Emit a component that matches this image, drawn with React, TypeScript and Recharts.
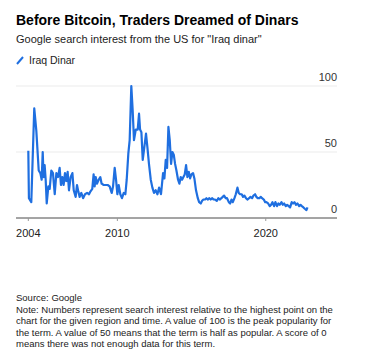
import React from "react";
import { CartesianGrid, Line, LineChart, XAxis, YAxis } from "recharts";

// Google Trends, "Iraq dinar", US. Dates as decimal years.
const dates = [
  2004.0, 2004.04, 2004.2, 2004.4, 2004.54, 2004.7, 2004.81, 2004.9, 2004.97,
  2005.03, 2005.1, 2005.17, 2005.24, 2005.35, 2005.44, 2005.55, 2005.66, 2005.78,
  2005.89, 2006.0, 2006.11, 2006.2, 2006.29, 2006.38, 2006.47, 2006.56, 2006.65,
  2006.74, 2006.85, 2006.97, 2007.06, 2007.19, 2007.28, 2007.37, 2007.46, 2007.57,
  2007.69, 2007.82, 2007.96, 2008.09, 2008.18, 2008.31, 2008.4, 2008.47, 2008.54,
  2008.63, 2008.74, 2008.85, 2008.94, 2009.08, 2009.21, 2009.35, 2009.48, 2009.62,
  2009.71, 2009.82, 2009.91, 2010.0, 2010.09, 2010.2, 2010.31, 2010.43, 2010.54,
  2010.63, 2010.74, 2010.83, 2010.94, 2011.03, 2011.12, 2011.24, 2011.37, 2011.46,
  2011.53, 2011.62, 2011.71, 2011.8, 2011.93, 2012.02, 2012.13, 2012.25, 2012.36,
  2012.47, 2012.58, 2012.7, 2012.81, 2012.94, 2013.08, 2013.17, 2013.26, 2013.35,
  2013.44, 2013.53, 2013.62, 2013.71, 2013.8, 2013.89, 2013.98, 2014.09, 2014.18,
  2014.27, 2014.36, 2014.45, 2014.54, 2014.63, 2014.72, 2014.81, 2014.9, 2014.99,
  2015.1, 2015.19, 2015.3, 2015.42, 2015.51, 2015.62, 2015.71, 2015.8, 2015.91,
  2016.0, 2016.09, 2016.2, 2016.29, 2016.38, 2016.49, 2016.58, 2016.7, 2016.81,
  2016.9, 2017.01, 2017.1, 2017.19, 2017.3, 2017.39, 2017.51, 2017.6, 2017.69,
  2017.78, 2017.89, 2017.98, 2018.09, 2018.18, 2018.27, 2018.38, 2018.47, 2018.56,
  2018.67, 2018.76, 2018.88, 2018.97, 2019.08, 2019.17, 2019.28, 2019.37, 2019.46,
  2019.57, 2019.66, 2019.75, 2019.87, 2019.96, 2020.04, 2020.16, 2020.27, 2020.36,
  2020.45, 2020.56, 2020.65, 2020.76, 2020.85, 2020.94, 2021.06, 2021.15, 2021.24,
  2021.35, 2021.44, 2021.55, 2021.64, 2021.75, 2021.84, 2021.93, 2022.04, 2022.13,
  2022.25, 2022.34, 2022.43, 2022.54, 2022.63, 2022.74, 2022.81,
];

const iraqDinar = [
  51, 15, 12, 83, 66, 36, 34, 29, 50,
  31, 40, 29, 11, 24, 22, 36, 34, 18,
  34, 31, 38, 25, 31, 25, 34, 28, 35,
  21, 31, 34, 21, 16, 25, 20, 16, 19,
  15, 18, 19, 18, 20, 22, 33, 24, 31,
  26, 29, 31, 26, 25, 25, 25, 24, 19,
  24, 38, 29, 18, 25, 18, 15, 19, 18,
  29, 49, 59, 100, 82, 59, 67, 67, 79,
  67, 65, 44, 52, 64, 54, 41, 29, 23,
  19, 21, 18, 23, 18, 34, 30, 44, 38,
  69, 59, 41, 50, 48, 41, 36, 29, 26,
  31, 29, 31, 33, 40, 31, 35, 30, 33,
  34, 30, 21, 15, 12, 11, 13, 14, 14,
  15, 14, 15, 14, 15, 14, 14, 13, 15,
  14, 15, 16, 17, 15, 15, 12, 11, 14,
  12, 15, 18, 23, 19, 18, 18, 16, 17,
  15, 14, 15, 16, 15, 17, 18, 16, 15,
  15, 16, 15, 14, 12, 12, 11, 9, 10,
  12, 9, 12, 9, 11, 10, 12, 10, 11,
  9, 10, 9, 8, 12, 11, 12, 10, 11,
  9, 10, 9, 8, 7, 6, 8,
];

const xTicks = [2004, 2010, 2020];
const yTicks = [0, 50, 100];

const rows = dates.map((d, i) => ({ date: d, value: iraqDinar[i] }));

const BLUE = "#1f6fe0";
const FONT = "'Liberation Sans', Arial, sans-serif";

function renderYTick(props: any) {
  const { y, payload } = props;
  return (
    <text x={337} y={y - 5} textAnchor="end" fontSize={11} fill="#333" fontFamily={FONT}>
      {payload.value}
    </text>
  );
}

export default function App() {
  return (
    <div
      style={{
        position: "absolute",
        left: 0,
        top: 0,
        width: 376,
        height: 362,
        background: "#fff",
        fontFamily: FONT,
        color: "#111",
      }}
    >
      <div style={{ position: "absolute", left: 16, top: 12, fontSize: 14, fontWeight: 700, color: "#000" }}>
        Before Bitcoin, Traders Dreamed of Dinars
      </div>
      <div style={{ position: "absolute", left: 16, top: 33, fontSize: 11, color: "#222" }}>
        Google search interest from the US for "Iraq dinar"
      </div>
      <div style={{ position: "absolute", left: 16, top: 54, fontSize: 10.5, color: "#222", display: "flex", alignItems: "center" }}>
        <svg width={8} height={10} style={{ marginRight: 5 }}>
          <line x1={1} y1={9} x2={7} y2={2} stroke={BLUE} strokeWidth={2} />
        </svg>
        Iraq Dinar
      </div>

      <div style={{ position: "absolute", left: 0, top: 70 }}>
        <LineChart
          width={376}
          height={180}
          data={rows}
          margin={{ top: 16, right: 9, bottom: 12, left: 16 }}
        >
          <CartesianGrid vertical={false} stroke="#ebebeb" />
          <XAxis
            dataKey="date"
            type="number"
            domain={[2003.17, 2024.8]}
            ticks={xTicks}
            allowDataOverflow
            height={20}
            axisLine={{ stroke: "#555" }}
            tickLine={{ stroke: "#999" }}
            tickSize={3}
            tickMargin={8}
            tick={{ fontSize: 11, fill: "#222", fontFamily: FONT }}
          />
          <YAxis
            orientation="right"
            width={30}
            domain={[0, 100]}
            ticks={yTicks}
            axisLine={false}
            tickLine={false}
            tick={renderYTick}
          />
          <Line
            dataKey="value"
            stroke={BLUE}
            strokeWidth={2.2}
            dot={false}
            isAnimationActive={false}
            strokeLinejoin="round"
          />
        </LineChart>
      </div>

      <div style={{ position: "absolute", left: 16, top: 292, fontSize: 9.5, lineHeight: "11.5px", color: "#222", width: 350 }}>
        <div>Source: Google</div>
        <div>
          Note: Numbers represent search interest relative to the highest point on the
          <br />
          chart for the given region and time. A value of 100 is the peak popularity for
          <br />
          the term. A value of 50 means that the term is half as popular. A score of 0
          <br />
          means there was not enough data for this term.
        </div>
      </div>
    </div>
  );
}
